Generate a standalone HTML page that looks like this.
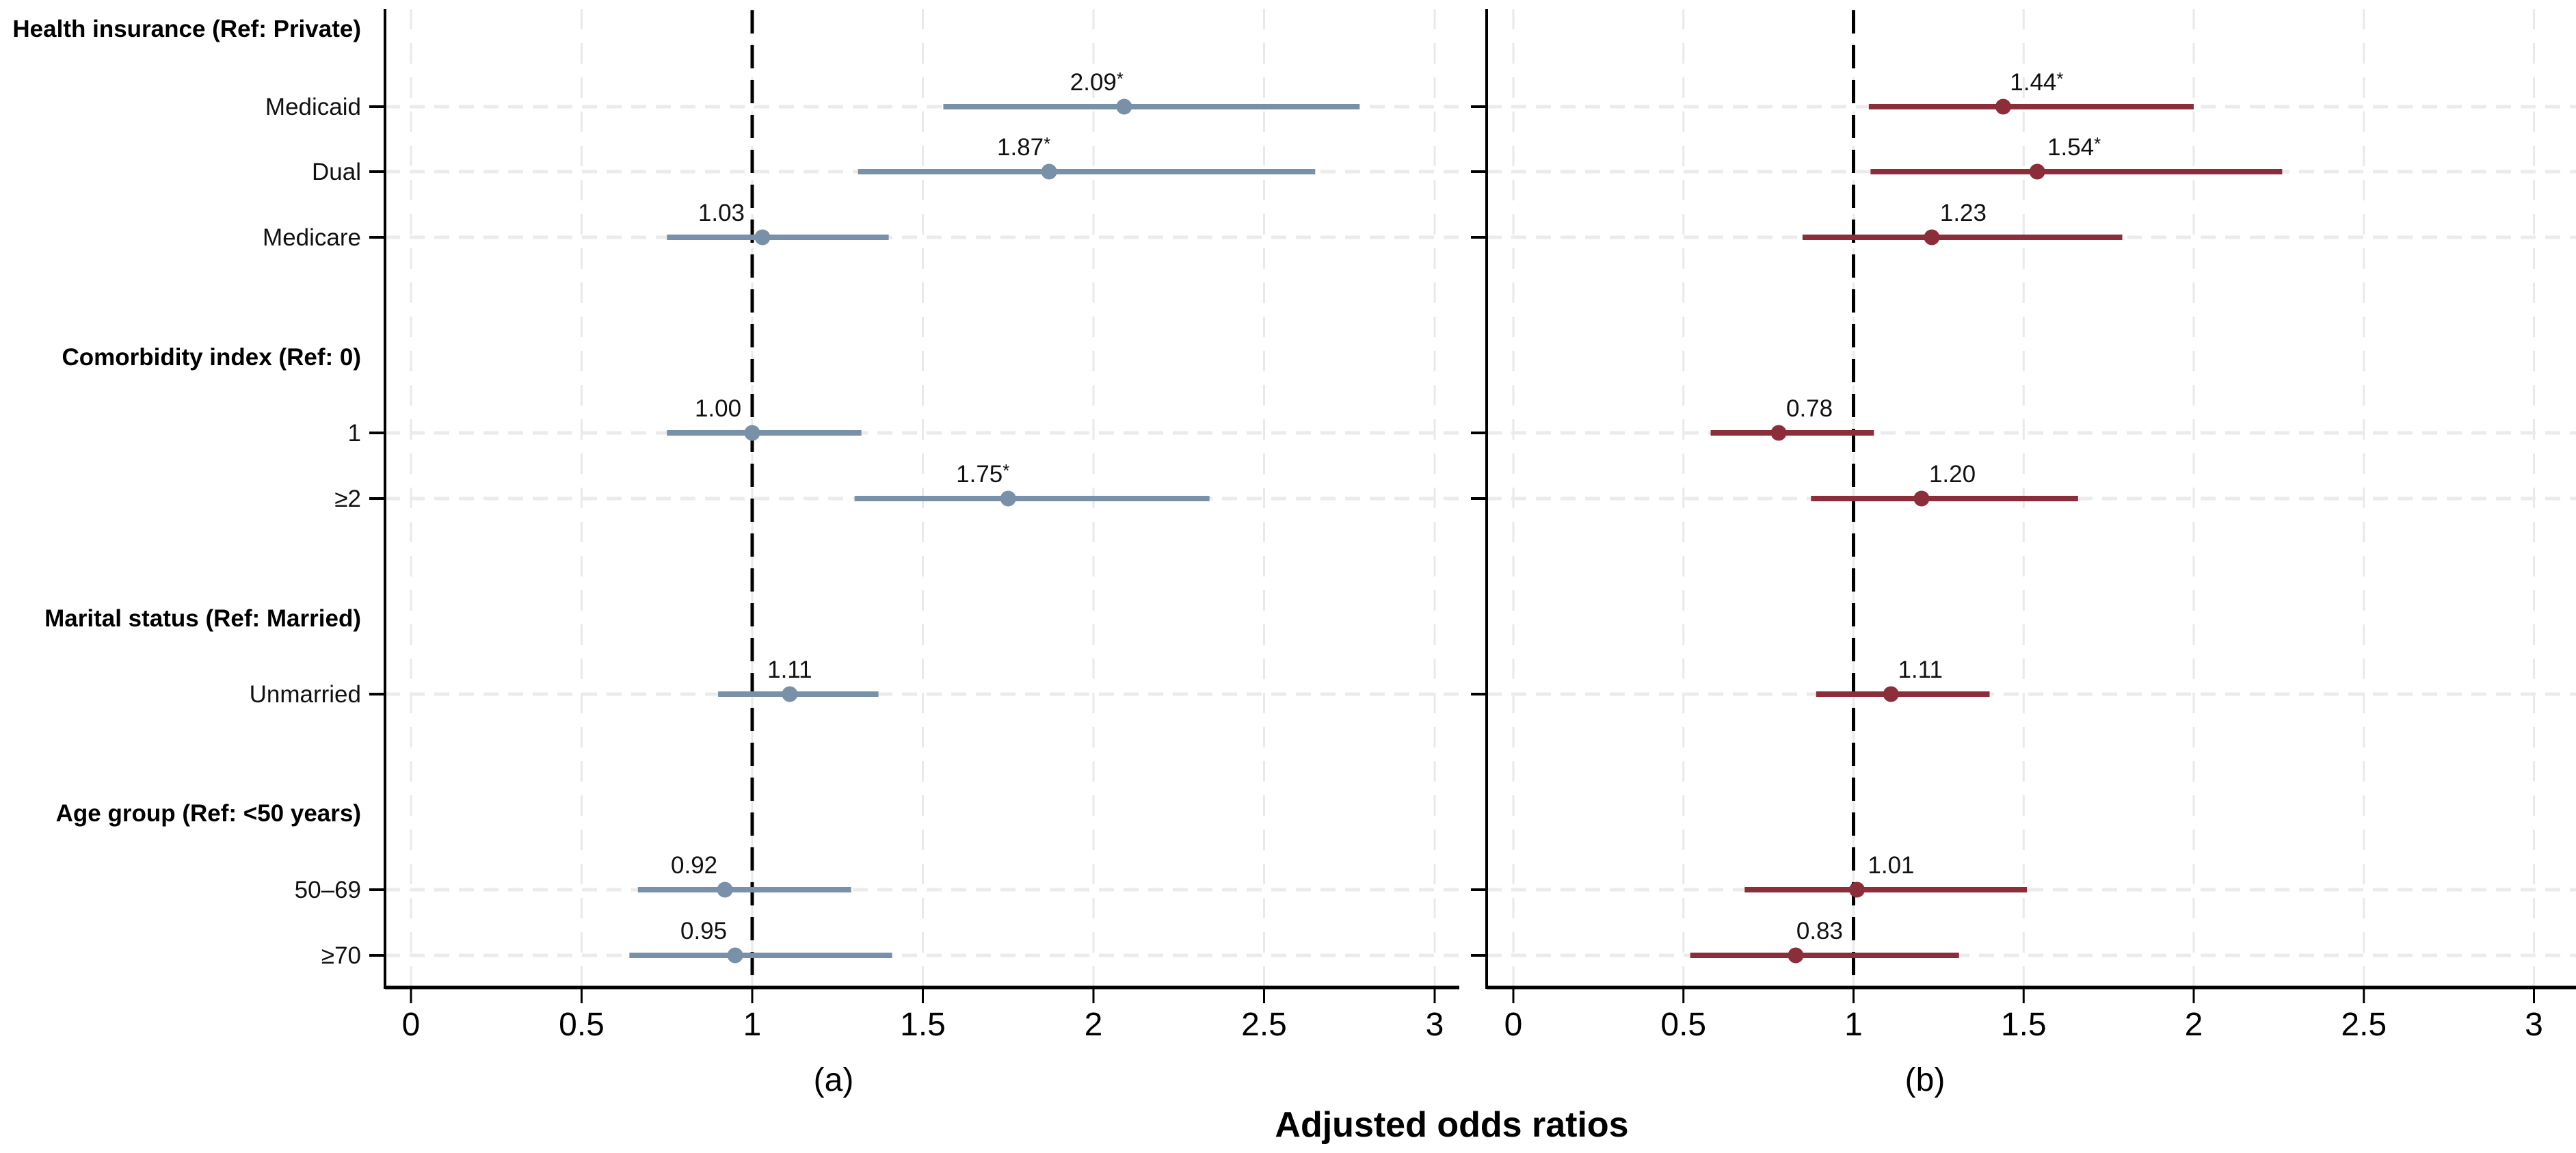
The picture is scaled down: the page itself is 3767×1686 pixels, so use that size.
<!DOCTYPE html>
<html><head><meta charset="utf-8">
<style>
html,body{margin:0;padding:0;background:#fff;}
svg{display:block;font-family:"Liberation Sans",Arial,sans-serif;}
</style></head>
<body>
<svg id="chart" width="3767" height="1686" viewBox="0 0 3767 1686" xmlns="http://www.w3.org/2000/svg">
<g id="grid"></g>
<g id="axes"></g>
<g id="marks"></g>
<g id="labels"></g>
</svg>
<script>
// ---- data ----
const rowLabels = ["Medicaid","Dual","Medicare","1","\u22652","Unmarried","50\u201369","\u226570"];
const rowY = [156, 251, 347, 633, 729, 1015, 1301, 1397];
const headerLabels = ["Health insurance (Ref: Private)","Comorbidity index (Ref: 0)","Marital status (Ref: Married)","Age group (Ref: <50 years)"];
const headerY = [42, 522, 904, 1189];
const orA = [2.09, 1.87, 1.03, 1.00, 1.75, 1.11, 0.92, 0.95];
const loA = [1.56, 1.31, 0.75, 0.75, 1.30, 0.90, 0.665, 0.64];
const hiA = [2.78, 2.65, 1.40, 1.32, 2.34, 1.37, 1.29, 1.41];
const sigA = [true, true, false, false, true, false, false, false];
const orB = [1.44, 1.54, 1.23, 0.78, 1.20, 1.11, 1.01, 0.83];
const loB = [1.045, 1.05, 0.85, 0.58, 0.875, 0.89, 0.68, 0.52];
const hiB = [2.00, 2.26, 1.79, 1.06, 1.66, 1.40, 1.51, 1.31];
const sigB = [true, true, false, false, false, false, false, false];
const xTicks = [0, 0.5, 1, 1.5, 2, 2.5, 3];
const xTickLabels = ["0","0.5","1","1.5","2","2.5","3"];
const labelDxA = [-40, -37, -60, -50, -37, 0, -45, -46];
const labelDxB = [49, 54, 46, 45, 45, 43, 50, 35];

const NS = "http://www.w3.org/2000/svg";
function mk(parent, tag, attrs, text){
  const e = document.createElementNS(NS, tag);
  for (const k in attrs) e.setAttribute(k, attrs[k]);
  if (text !== undefined) e.textContent = text;
  parent.appendChild(e);
  return e;
}
const gGrid = document.getElementById("grid");
const gAxes = document.getElementById("axes");
const gMarks = document.getElementById("marks");
const gLab = document.getElementById("labels");

const TOP = 13, AXY = 1444;
const panels = [
  {name:"a", x0:601, unit:499, axL:563, axR:2134, color:"#7890a8", or:orA, lo:loA, hi:hiA, sig:sigA, dx:labelDxA, tag:"(a)", tagX:1219},
  {name:"b", x0:2213, unit:497.5, axL:2174, axR:3767, color:"#8b2e3a", or:orB, lo:loB, hi:hiB, sig:sigB, dx:labelDxB, tag:"(b)", tagX:2815}
];

panels.forEach(p => {
  const xs = v => p.x0 + v * p.unit;
  // vertical gridlines
  xTicks.forEach(t => {
    const l = mk(gGrid, "line", {x1:xs(t), x2:xs(t), y1:TOP, y2:AXY, stroke:"#e9e9e9", "stroke-width":3, "stroke-dasharray":"30 20"});
    
    
  });
  // horizontal gridlines
  rowY.forEach(y => {
    const l = mk(gGrid, "line", {x1:p.axL, x2:p.axR, y1:y, y2:y, stroke:"#ebebeb", "stroke-width":5, "stroke-dasharray":"22 14"});
    
    
  });
  // axes
  const ya = mk(gAxes, "line", {x1:p.axL, x2:p.axL, y1:TOP, y2:AXY+2, stroke:"#000", "stroke-width":4});
  
  
  const xa = mk(gAxes, "line", {x1:p.axL, x2:p.axR, y1:AXY, y2:AXY, stroke:"#000", "stroke-width":5});
  
  
  xTicks.forEach((t, i) => {
    const tk = mk(gAxes, "line", {x1:xs(t), x2:xs(t), y1:AXY, y2:AXY+23, stroke:"#000", "stroke-width":3});
    
    
    const tl = mk(gAxes, "text", {x:xs(t), y:1514, "font-size":48, "text-anchor":"middle", fill:"#000"}, xTickLabels[i]);
    
    
  });
  rowY.forEach(y => {
    const tk = mk(gAxes, "line", {x1:p.axL-23, x2:p.axL, y1:y, y2:y, stroke:"#000", "stroke-width":4});
    
    
  });
  // reference line at 1
  const ref = mk(gMarks, "line", {x1:xs(1), x2:xs(1), y1:TOP+2, y2:AXY, stroke:"#000", "stroke-width":5, "stroke-dasharray":"34 17"});
  
  
  // CIs, points, labels
  rowY.forEach((y, i) => {
    const ci = mk(gMarks, "line", {x1:xs(p.lo[i]), x2:xs(p.hi[i]), y1:y, y2:y, stroke:p.color, "stroke-width":8});
    
    
    const pt = mk(gMarks, "circle", {cx:xs(p.or[i]), cy:y, r:11.5, fill:p.color});
    
    
    const tx = mk(gLab, "text", {x:xs(p.or[i]) + p.dx[i], y:y-24, "font-size":35, "text-anchor":"middle", fill:"#111"});
    tx.textContent = p.or[i].toFixed(2);
    if (p.sig[i]) {
      const s = mk(tx, "tspan", {"font-size":26, dy:-8}, "*");
    }
    
    
  });
  const tg = mk(gLab, "text", {x:p.tagX, y:1595, "font-size":48, "text-anchor":"middle", fill:"#000"}, p.tag);
  
  
});

// row labels
rowY.forEach((y, i) => {
  const t = mk(gLab, "text", {x:528, y:y+12, "font-size":35, "text-anchor":"end", fill:"#111"}, rowLabels[i]);
  
  
});
headerY.forEach((y, i) => {
  const t = mk(gLab, "text", {x:528, y:y+12, "font-size":35, "font-weight":"bold", "text-anchor":"end", fill:"#000"}, headerLabels[i]);
  
  
});
const xt = mk(gLab, "text", {x:2123, y:1662, "font-size":52, "font-weight":"bold", "text-anchor":"middle", fill:"#000"}, "Adjusted odds ratios");


</script>
</body></html>
